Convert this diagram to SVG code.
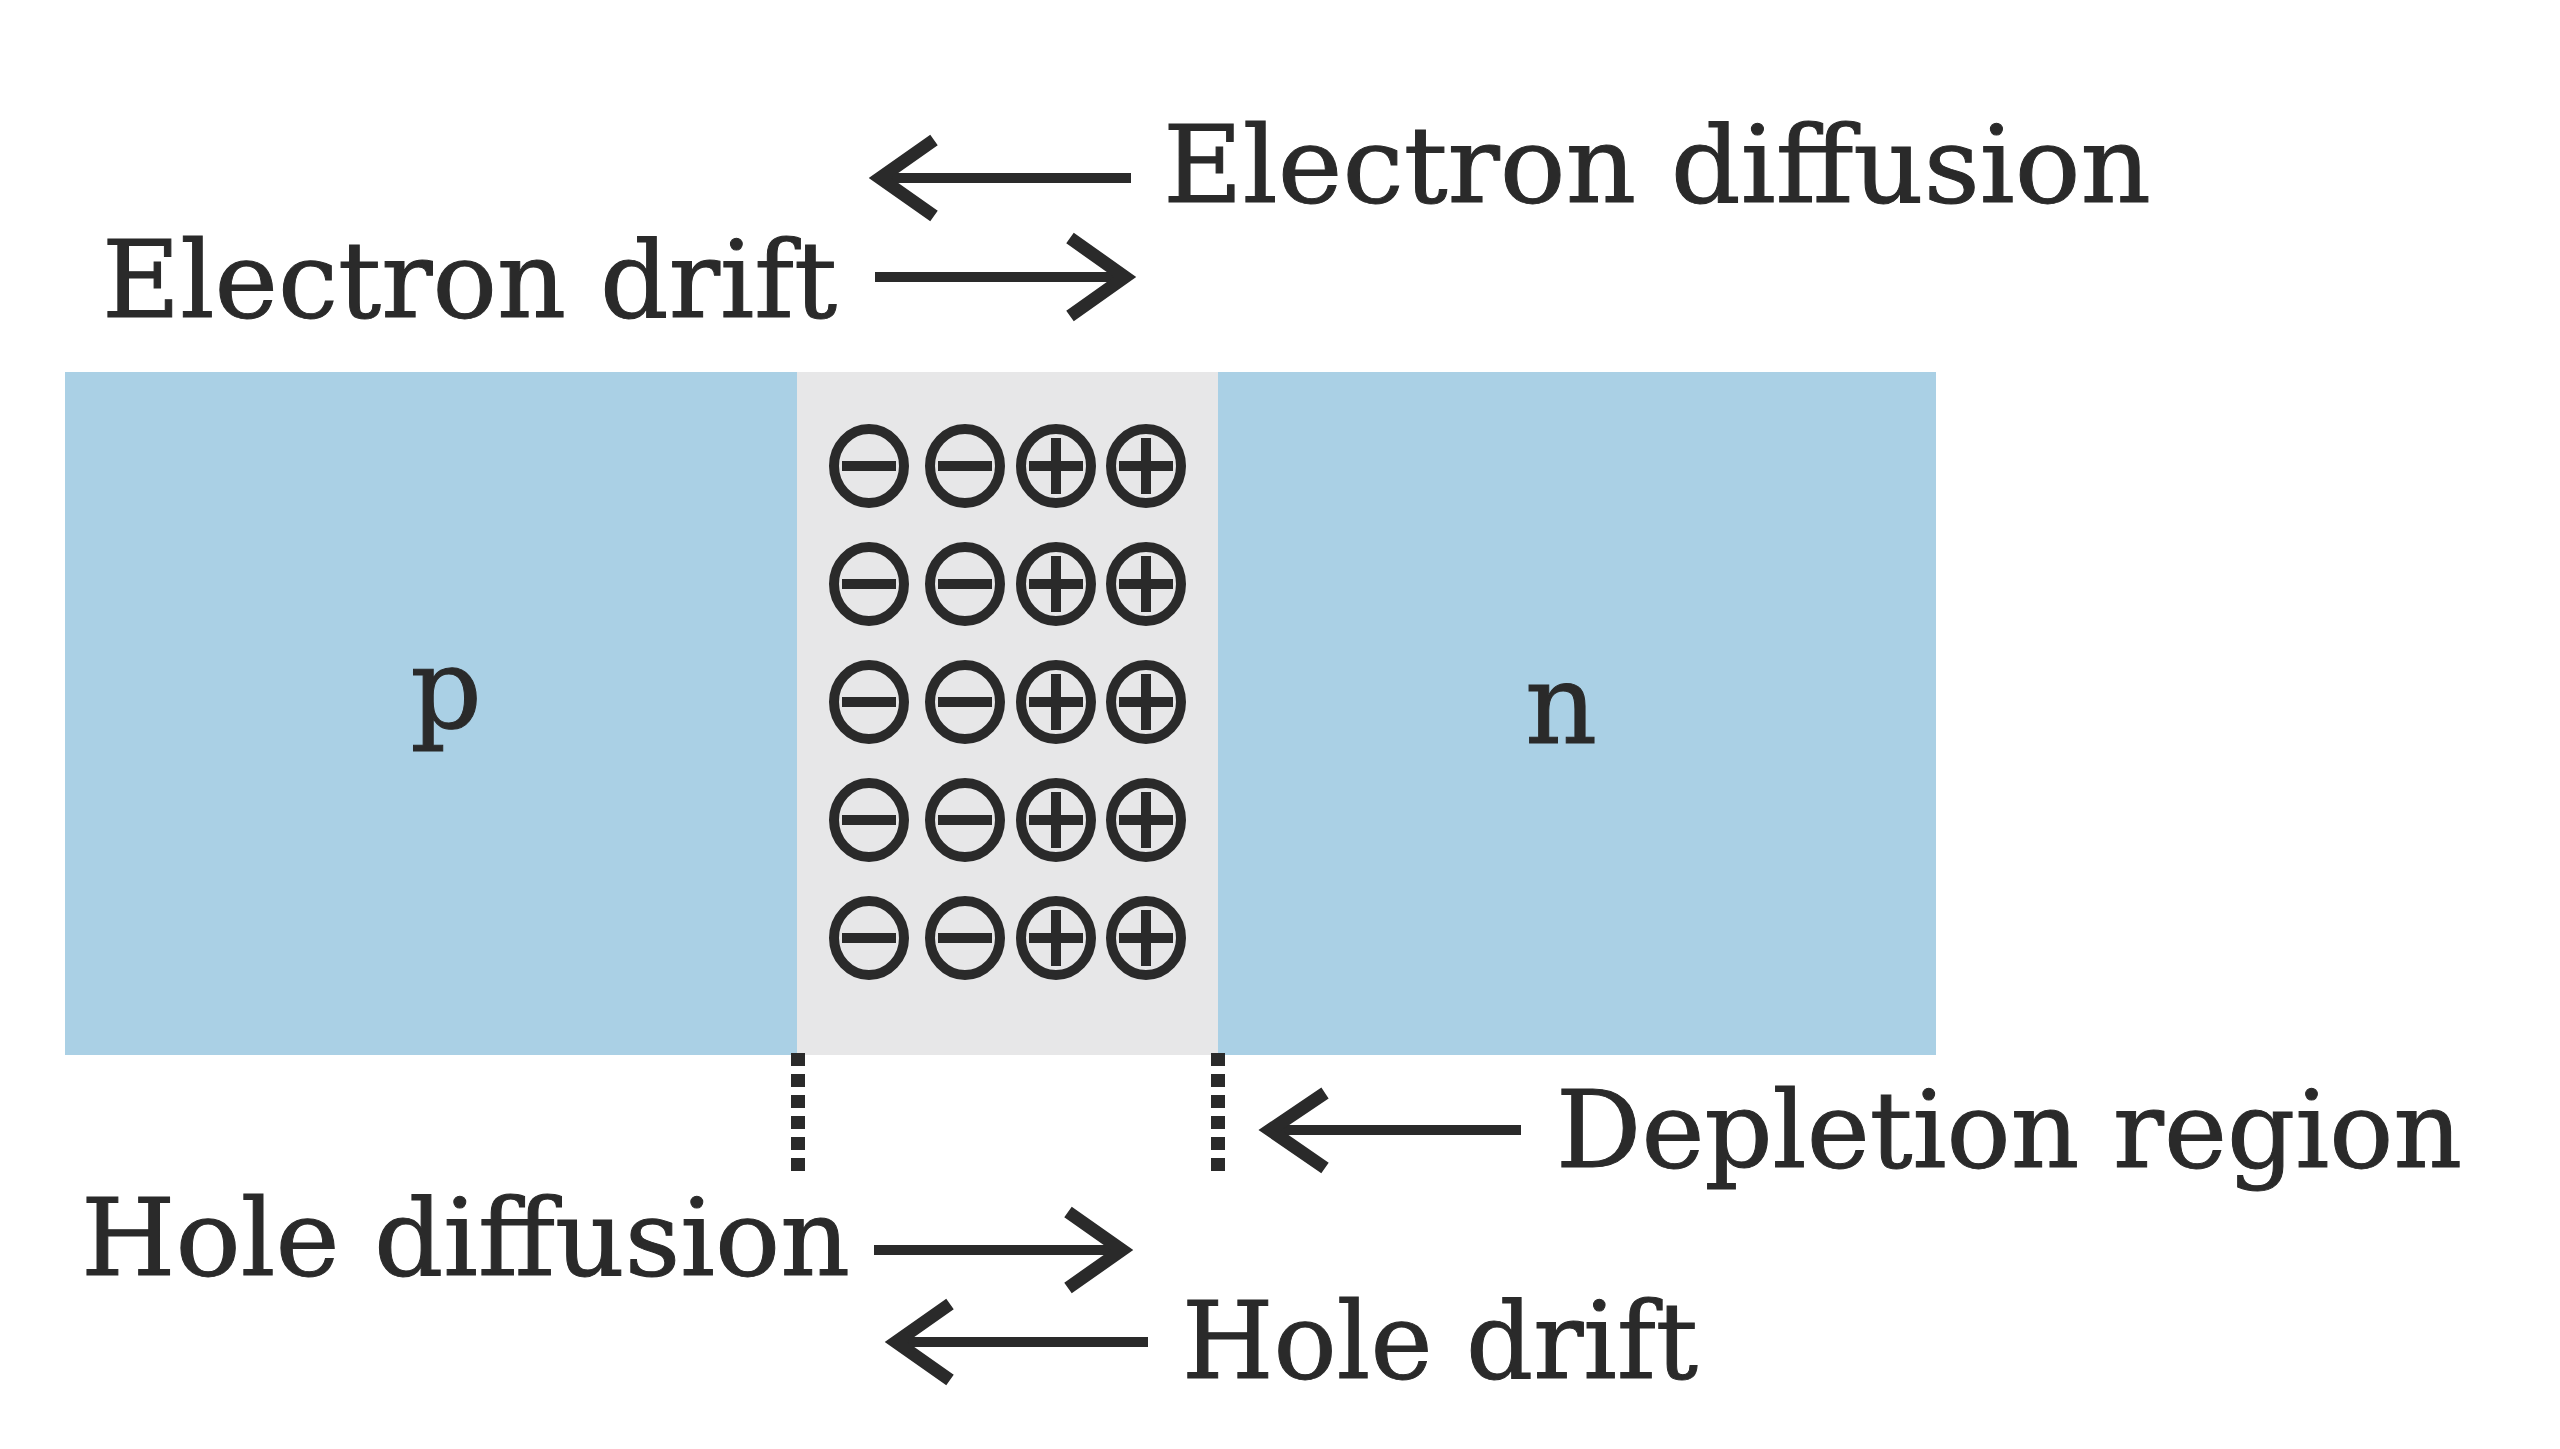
<svg xmlns="http://www.w3.org/2000/svg" xmlns:xlink="http://www.w3.org/1999/xlink" width="2560" height="1449" viewBox="0 0 2560 1449">
  <style>
    .lbl { font-family: "DejaVu Serif", "Liberation Serif", serif; font-size: 106px; fill: #2a2a2a; stroke: #2a2a2a; stroke-width: 1; }
    .big { font-family: "DejaVu Serif", "Liberation Serif", serif; font-size: 112px; fill: #2a2a2a; text-anchor: middle; stroke: #2a2a2a; stroke-width: 1; }
    .shaft { stroke: #2a2a2a; stroke-width: 10; fill: none; }
    .head { stroke: #2a2a2a; stroke-width: 13; fill: none; stroke-linejoin: miter; stroke-miterlimit: 10; }
    .dots { stroke: #2a2a2a; stroke-width: 14; stroke-dasharray: 13 8; fill: none; }
    .ring { fill: none; stroke: #2a2a2a; stroke-width: 10; }
    .bar { stroke: #2a2a2a; stroke-width: 10; }
  </style>
  <defs>
    <g id="minus">
      <ellipse class="ring" cx="0" cy="0" rx="35" ry="37"/>
      <line class="bar" x1="-27" y1="0" x2="27" y2="0"/>
    </g>
    <g id="plus">
      <ellipse class="ring" cx="0" cy="0" rx="35" ry="37"/>
      <line class="bar" x1="-27" y1="0" x2="27" y2="0"/>
      <line class="bar" x1="0" y1="-28" x2="0" y2="28"/>
    </g>
  </defs>
  <rect width="2560" height="1449" fill="#ffffff"/>

  <g id="p-region">
    <rect x="65" y="372" width="732" height="683" fill="#aad0e5"/>
    <text class="big" x="446" y="728">p</text>
  </g>
  <g id="n-region">
    <rect x="1218" y="372" width="718" height="683" fill="#aad0e5"/>
    <text class="big" x="1561" y="743">n</text>
  </g>
  <g id="depletion-zone">
    <rect x="797" y="372" width="421" height="683" fill="#e7e7e8"/>
    <g id="charges">
      <use xlink:href="#minus" x="869" y="466"/><use xlink:href="#minus" x="965" y="466"/><use xlink:href="#plus" x="1056" y="466"/><use xlink:href="#plus" x="1146" y="466"/>
      <use xlink:href="#minus" x="869" y="584"/><use xlink:href="#minus" x="965" y="584"/><use xlink:href="#plus" x="1056" y="584"/><use xlink:href="#plus" x="1146" y="584"/>
      <use xlink:href="#minus" x="869" y="702"/><use xlink:href="#minus" x="965" y="702"/><use xlink:href="#plus" x="1056" y="702"/><use xlink:href="#plus" x="1146" y="702"/>
      <use xlink:href="#minus" x="869" y="820"/><use xlink:href="#minus" x="965" y="820"/><use xlink:href="#plus" x="1056" y="820"/><use xlink:href="#plus" x="1146" y="820"/>
      <use xlink:href="#minus" x="869" y="938"/><use xlink:href="#minus" x="965" y="938"/><use xlink:href="#plus" x="1056" y="938"/><use xlink:href="#plus" x="1146" y="938"/>
    </g>
  </g>

  <g id="labels">
    <text class="lbl" x="1163" y="202" textLength="988" lengthAdjust="spacingAndGlyphs">Electron diffusion</text>
    <text class="lbl" x="102" y="317" textLength="735" lengthAdjust="spacingAndGlyphs">Electron drift</text>
    <text class="lbl" x="1556" y="1167" textLength="906" lengthAdjust="spacingAndGlyphs">Depletion region</text>
    <text class="lbl" x="81" y="1275" textLength="769" lengthAdjust="spacingAndGlyphs">Hole diffusion</text>
    <text class="lbl" x="1182" y="1378" textLength="516" lengthAdjust="spacingAndGlyphs">Hole drift</text>
  </g>

  <g id="connectors">
    <line class="shaft" x1="880" y1="178" x2="1131" y2="178"/>
    <polyline class="head" points="934,140 880,178 934,216"/>

    <line class="shaft" x1="875" y1="277" x2="1125" y2="277"/>
    <polyline class="head" points="1070,238 1125,277 1070,316"/>

    <line class="shaft" x1="1270" y1="1130" x2="1521" y2="1130"/>
    <polyline class="head" points="1325,1093 1270,1130 1325,1168"/>

    <line class="shaft" x1="874" y1="1250" x2="1122" y2="1250"/>
    <polyline class="head" points="1068,1212 1122,1250 1068,1288"/>

    <line class="shaft" x1="896" y1="1342" x2="1148" y2="1342"/>
    <polyline class="head" points="950,1304 896,1342 950,1380"/>

    <line class="dots" x1="798" y1="1053" x2="798" y2="1172"/>
    <line class="dots" x1="1218" y1="1053" x2="1218" y2="1172"/>
  </g>
</svg>
